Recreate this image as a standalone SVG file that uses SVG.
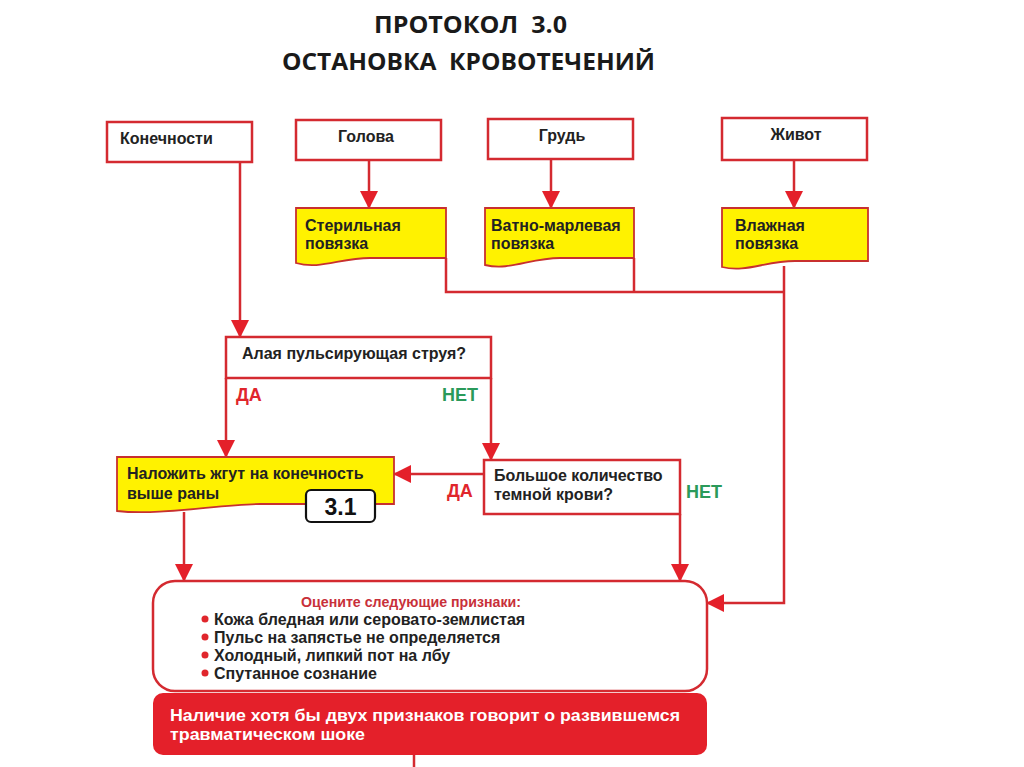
<svg xmlns="http://www.w3.org/2000/svg" width="1024" height="767" viewBox="0 0 1024 767">
<defs>
<style>
.box{fill:#fff;stroke:#d42a30;stroke-width:2.5}
.doc{fill:#fff200;stroke:#c8302f;stroke-width:1.8}
.t{font-family:"Liberation Sans",Arial,sans-serif;font-weight:bold;font-size:16px;fill:#222}
.title{font-family:"Open Sans","Liberation Sans",Arial,sans-serif;font-weight:bold;font-size:24px;fill:#1a1a1a;white-space:pre}
.da{font-family:"Liberation Sans",Arial,sans-serif;font-weight:bold;font-size:18px;fill:#e0262c}
.net{font-family:"Liberation Sans",Arial,sans-serif;font-weight:bold;font-size:18px;fill:#2a9a5a}
.c{fill:none;stroke:#d42a30;stroke-width:2.5}
</style>
<marker id="ah" markerUnits="userSpaceOnUse" markerWidth="18" markerHeight="18" viewBox="0 0 18 18" refX="17" refY="9" orient="auto">
<path d="M0,0 L18,9 L0,18 Z" fill="#e4202a"/>
</marker>
</defs>
<rect width="1024" height="767" fill="#fff"/>
<g id="title">
<text class="title" x="374" y="33" textLength="193" lengthAdjust="spacingAndGlyphs" xml:space="preserve">ПРОТОКОЛ  3.0</text>
<text class="title" x="282" y="70" textLength="373" lengthAdjust="spacingAndGlyphs" xml:space="preserve">ОСТАНОВКА  КРОВОТЕЧЕНИЙ</text>
</g>
<g id="connectors">
<path class="c" d="M369,160 V208" marker-end="url(#ah)"/>
<path class="c" d="M551,159 V208" marker-end="url(#ah)"/>
<path class="c" d="M794,160 V208" marker-end="url(#ah)"/>
<path class="c" d="M240,162 V337" marker-end="url(#ah)"/>
<path class="c" d="M446,258 V292 H784"/>
<path class="c" d="M634,258 V292"/>
<path class="c" d="M784,266 V603 H707" marker-end="url(#ah)"/>
<path class="c" d="M226,378 V457" marker-end="url(#ah)"/>
<path class="c" d="M491,378 V460" marker-end="url(#ah)"/>
<path class="c" d="M484,474 H394" marker-end="url(#ah)"/>
<path class="c" d="M184,512 V581" marker-end="url(#ah)"/>
<path class="c" d="M680,514 V581" marker-end="url(#ah)"/>
<path class="c" d="M414,755 V767"/>
</g>
<g id="n-konechnosti">
<rect class="box" x="107" y="122" width="145" height="40"/>
<text class="t" x="120" y="144">Конечности</text>
</g>
<g id="n-golova">
<rect class="box" x="296" y="120" width="145" height="40"/>
<text class="t" x="366" y="142" text-anchor="middle">Голова</text>
</g>
<g id="n-grud">
<rect class="box" x="488" y="119" width="145" height="40"/>
<text class="t" x="562" y="141" text-anchor="middle">Грудь</text>
</g>
<g id="n-zhivot">
<rect class="box" x="722" y="118" width="145" height="42"/>
<text class="t" x="796" y="140" text-anchor="middle">Живот</text>
</g>
<g id="n-steril">
<path class="doc" d="M296,208 H446 V258 H370 C340,258 320,270 296,263 Z"/>
<text class="t" x="305" y="231">Стерильная</text>
<text class="t" x="305" y="249">повязка</text>
</g>
<g id="n-vatno">
<path class="doc" d="M485,208 H634 V258 H560 C530,258 510,271 485,265 Z"/>
<text class="t" x="491" y="231">Ватно-марлевая</text>
<text class="t" x="491" y="249">повязка</text>
</g>
<g id="n-vlazh">
<path class="doc" d="M722,208 H868 V261 H795 C765,261 746,273 722,267 Z"/>
<text class="t" x="735" y="231">Влажная</text>
<text class="t" x="735" y="249">повязка</text>
</g>
<g id="n-alaya">
<rect class="box" x="226" y="337" width="265" height="41"/>
<text class="t" x="242" y="359">Алая пульсирующая струя?</text>
<text class="da" x="236" y="401">ДА</text>
<text class="net" x="442" y="401">НЕТ</text>
</g>
<g id="n-nalozhit">
<path class="doc" d="M117,457 H394 V504 H260 C220,504 160,516 117,511 Z"/>
<text class="t" x="127" y="479">Наложить жгут на конечность</text>
<text class="t" x="127" y="499">выше раны</text>
<rect x="306" y="490" width="69" height="32" rx="5" fill="#fff" stroke="#111" stroke-width="2.2"/>
<text x="340.5" y="515" text-anchor="middle" font-family="'Liberation Sans',Arial,sans-serif" font-weight="bold" font-size="23" fill="#111">3.1</text>
</g>
<g id="n-bolshoe">
<rect class="box" x="484" y="460" width="196" height="54"/>
<text class="t" x="494" y="481">Большое количество</text>
<text class="t" x="494" y="500">темной крови?</text>
<text class="da" x="447" y="497">ДА</text>
<text class="net" x="686" y="498">НЕТ</text>
</g>
<g id="n-priznaki">
<rect x="153" y="581" width="554" height="110" rx="22" fill="#fff" stroke="#d42a30" stroke-width="2.5"/>
<text x="411" y="607" text-anchor="middle" font-family="'Liberation Sans',Arial,sans-serif" font-weight="bold" font-size="15" fill="#c8303a" textLength="220" lengthAdjust="spacingAndGlyphs">Оцените следующие признаки:</text>
<g fill="#e0262c">
<circle cx="205" cy="619" r="3.5"/>
<circle cx="205" cy="637" r="3.5"/>
<circle cx="205" cy="655" r="3.5"/>
<circle cx="205" cy="673" r="3.5"/>
</g>
<text class="t" x="214" y="625">Кожа бледная или серовато-землистая</text>
<text class="t" x="214" y="643">Пульс на запястье не определяется</text>
<text class="t" x="214" y="661">Холодный, липкий пот на лбу</text>
<text class="t" x="214" y="679">Спутанное сознание</text>
</g>
<g id="n-shok">
<rect x="153" y="693" width="554" height="62" rx="10" fill="#e4202a"/>
<text x="170" y="721" font-family="'Liberation Sans',Arial,sans-serif" font-weight="bold" font-size="16" fill="#fff" textLength="510" lengthAdjust="spacingAndGlyphs">Наличие хотя бы двух признаков говорит о развившемся</text>
<text x="170" y="740" font-family="'Liberation Sans',Arial,sans-serif" font-weight="bold" font-size="16" fill="#fff" textLength="195" lengthAdjust="spacingAndGlyphs">травматическом шоке</text>
</g>
</svg>
